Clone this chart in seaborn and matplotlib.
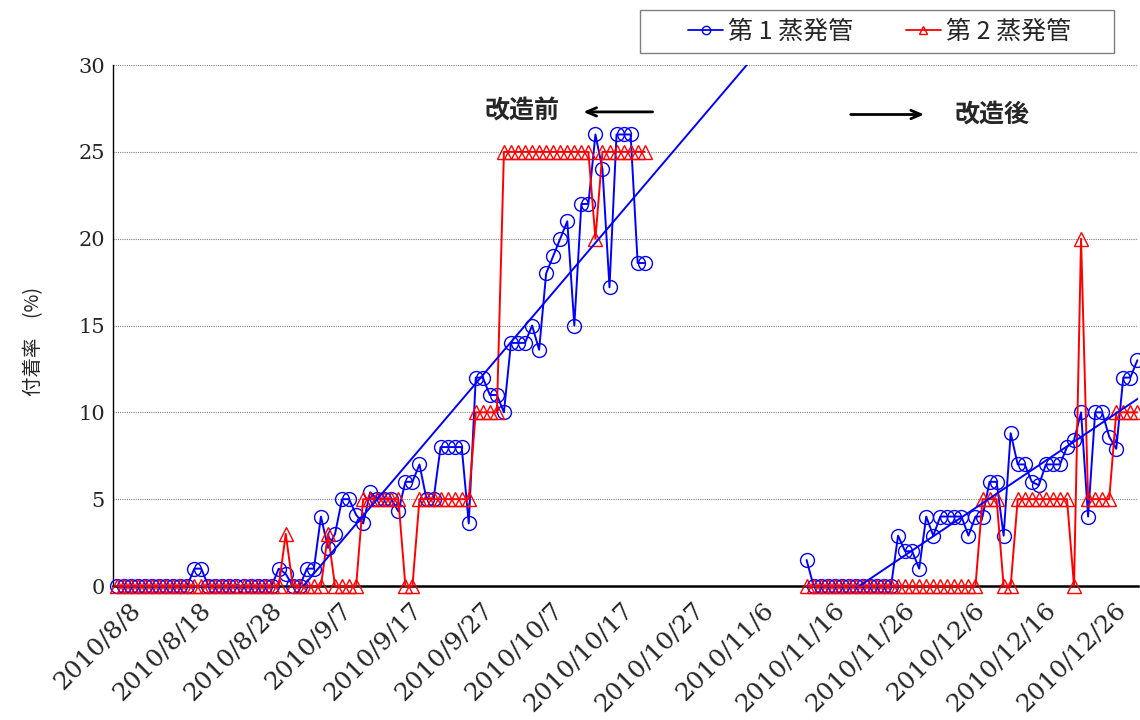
#Adhesion rate of evaporator tubes before / after modification
import numpy as np
import pandas as pd
import matplotlib.pyplot as plt
import matplotlib.transforms as mtransforms
from matplotlib.lines import Line2D
from matplotlib.patches import Rectangle
import seaborn as sns

#Data (one value per day)
dates_before = pd.date_range("2010-08-08", "2010-10-22")
dates_after = pd.date_range("2010-11-14", "2010-12-31")

tube1_before = [0, 0, 0, 0, 0, 0, 0, 0, 0, 0, 0, 1, 1, 0, 0, 0, 0, 0, 0, 0,
                0, 0, 0, 1.0, 0.7, 0, 0, 1, 1, 4.0, 2.2, 3.0, 5, 5, 4.1, 3.6, 5.4, 5, 5, 5,
                4.3, 6, 6, 7, 5, 5, 8, 8, 8, 8, 3.6, 12, 12, 11, 11, 10, 14, 14, 14, 15,
                13.6, 18, 19, 20, 21, 15, 22, 22, 26, 24, 17.2, 26, 26, 26, 18.6, 18.6]
tube2_before = [0, 0, 0, 0, 0, 0, 0, 0, 0, 0, 0, 0, 0, 0, 0, 0, 0, 0, 0, 0,
                0, 0, 0, 0, 3, 0, 0, 0, 0, 0, 3, 0, 0, 0, 0, 5, 5, 5, 5, 5,
                5, 0, 0, 5, 5, 5, 5, 5, 5, 5, 5, 10, 10, 10, 10, 25, 25, 25, 25, 25,
                25, 25, 25, 25, 25, 25, 25, 25, 20, 25, 25, 25, 25, 25, 25, 25]
tube1_after = [1.5, 0, 0, 0, 0, 0, 0, 0, 0, 0, 0, 0, 0, 2.9, 2.0, 2.0, 1.0, 4.0, 2.9, 4,
               4, 4, 4, 2.9, 4, 4, 6, 6, 2.9, 8.8, 7, 7, 6.0, 5.8, 7, 7, 7, 8.0, 8.4, 10,
               4.0, 10, 10, 8.6, 7.9, 12, 12, 13]
tube2_after = [0, 0, 0, 0, 0, 0, 0, 0, 0, 0, 0, 0, 0, 0, 0, 0, 0, 0, 0, 0,
               0, 0, 0, 0, 0, 5, 5, 5, 0, 0, 5, 5, 5, 5, 5, 5, 5, 5, 0, 20,
               5, 5, 5, 5, 10, 10, 10, 10]

#Trend lines
trend_before_dates = ["2010-09-04", "2010-11-06"]
trend_before_vals = [0.0, 30.0]
trend_after_dates = ["2010-11-22", "2011-01-01"]
trend_after_vals = [0.0, 10.9]

xtick_dates = pd.date_range("2010-08-08", "2010-12-26", freq="10D")
ytick_vals = [0, 5, 10, 15, 20, 25, 30]

label1 = "第 1 蒸発管"
label2 = "第 2 蒸発管"

rows = []
for d, v in zip(dates_before, tube1_before):
    rows.append((d, v, label1, "before"))
for d, v in zip(dates_after, tube1_after):
    rows.append((d, v, label1, "after"))
for d, v in zip(dates_before, tube2_before):
    rows.append((d, v, label2, "before"))
for d, v in zip(dates_after, tube2_after):
    rows.append((d, v, label2, "after"))
df = pd.DataFrame(rows, columns=["date", "value", "tube", "period"])
#points sit around midday of each date on the axis
df["x"] = df["date"] + pd.Timedelta(hours=12)

sns.set_style("white")
plt.rcParams['font.family'] = ['Noto Sans CJK JP', 'DejaVu Sans']
serif = "DejaVu Serif"

fig = plt.figure(figsize=(11.4, 7.2), dpi=100)
ax = fig.add_axes([0.0994, 0.1861, 0.8988, 0.7236])

styles = {label1: ("#0000FF", "o", 10), label2: ("#FF0000", "^", 9.5)}
for tube in [label1, label2]:
    color, marker, ms = styles[tube]
    sns.lineplot(data=df[df["tube"] == tube], x="x", y="value", units="period",
                 estimator=None, color=color, marker=marker, markersize=ms,
                 markerfacecolor="none", markeredgecolor=color, markeredgewidth=1.0,
                 linewidth=1.4, ax=ax, legend=False, clip_on=False, zorder=3)

#Trend lines
sns.lineplot(x=pd.to_datetime(trend_before_dates), y=trend_before_vals, color="#0000FF",
             linewidth=1.4, ax=ax, legend=False, zorder=4)
sns.lineplot(x=pd.to_datetime(trend_after_dates), y=trend_after_vals, color="#0000FF",
             linewidth=1.4, ax=ax, legend=False, zorder=4)

ax.set_xlim(pd.Timestamp("2010-08-08"), pd.Timestamp("2010-12-31 14:00"))
ax.set_ylim(0, 30)

ax.set_xticks(xtick_dates)
ax.set_xticklabels([f"{d.year}/{d.month}/{d.day}" for d in xtick_dates],
                   rotation=45, ha="right", va="top", rotation_mode="anchor",
                   fontfamily=serif, fontsize=18)
ax.set_yticks(ytick_vals)
ax.set_yticklabels([str(v) for v in ytick_vals], fontfamily=serif, fontsize=15)
ax.tick_params(axis="x", direction="in", length=7, color="gray", pad=9)
ax.tick_params(axis="y", length=0, pad=6)

ax.yaxis.grid(True, linestyle=(0, (1, 1)), color="gray", linewidth=0.8)
ax.xaxis.grid(False)
for s in ["top", "right"]:
    ax.spines[s].set_visible(False)
ax.spines["left"].set_color("black")
ax.spines["left"].set_linewidth(1.0)
ax.spines["bottom"].set_color("black")
ax.spines["bottom"].set_linewidth(1.8)

ax.set_xlabel("")
ax.set_ylabel("付着率　(%)", fontsize=14)
ax.yaxis.set_label_coords(-0.068, 0.47)

#Before / after annotations
ax.text(0.399, 0.91, "改造前", transform=ax.transAxes, ha="center", va="center",
        fontsize=18, fontweight="bold")
ax.annotate("", xy=(0.456, 0.91), xytext=(0.529, 0.91), xycoords="axes fraction",
            arrowprops=dict(arrowstyle="->,head_length=0.7,head_width=0.3", lw=2, color="black"))
ax.text(0.8575, 0.905, "改造後", transform=ax.transAxes, ha="center", va="center",
        fontsize=18, fontweight="bold")
ax.annotate("", xy=(0.794, 0.905), xytext=(0.717, 0.905), xycoords="axes fraction",
            arrowprops=dict(arrowstyle="->,head_length=0.7,head_width=0.3", lw=2, color="black"))

#Legend: frame drawn separately for Excel-like padding
fig.add_artist(Rectangle((640 / 1140, 1 - 53 / 720), 474 / 1140, 43 / 720,
                         transform=fig.transFigure, fill=False, edgecolor="gray", lw=1.0))
handles = [Line2D([], [], color="#0000FF", marker="o", markersize=6, markerfacecolor="none", lw=1.3),
           Line2D([], [], color="#FF0000", marker="^", markersize=6, markerfacecolor="none", lw=1.3)]
fig.legend(handles, [label1, label2], loc="center", bbox_to_anchor=(0.7715, 1 - 31.5 / 720),
           ncol=2, frameon=False, fontsize=18,
           handlelength=1.4, handletextpad=0.2, columnspacing=2.1, borderpad=0.2)

#shift the rotated date labels a little to the right (after ticks exist)
fig.canvas.draw()
offset = mtransforms.ScaledTranslation(16 / 100, 0, fig.dpi_scale_trans)
for tick in ax.xaxis.get_major_ticks():
    tick.label1.set_transform(tick.label1.get_transform() + offset)

fig.savefig("out.png", dpi=100)
